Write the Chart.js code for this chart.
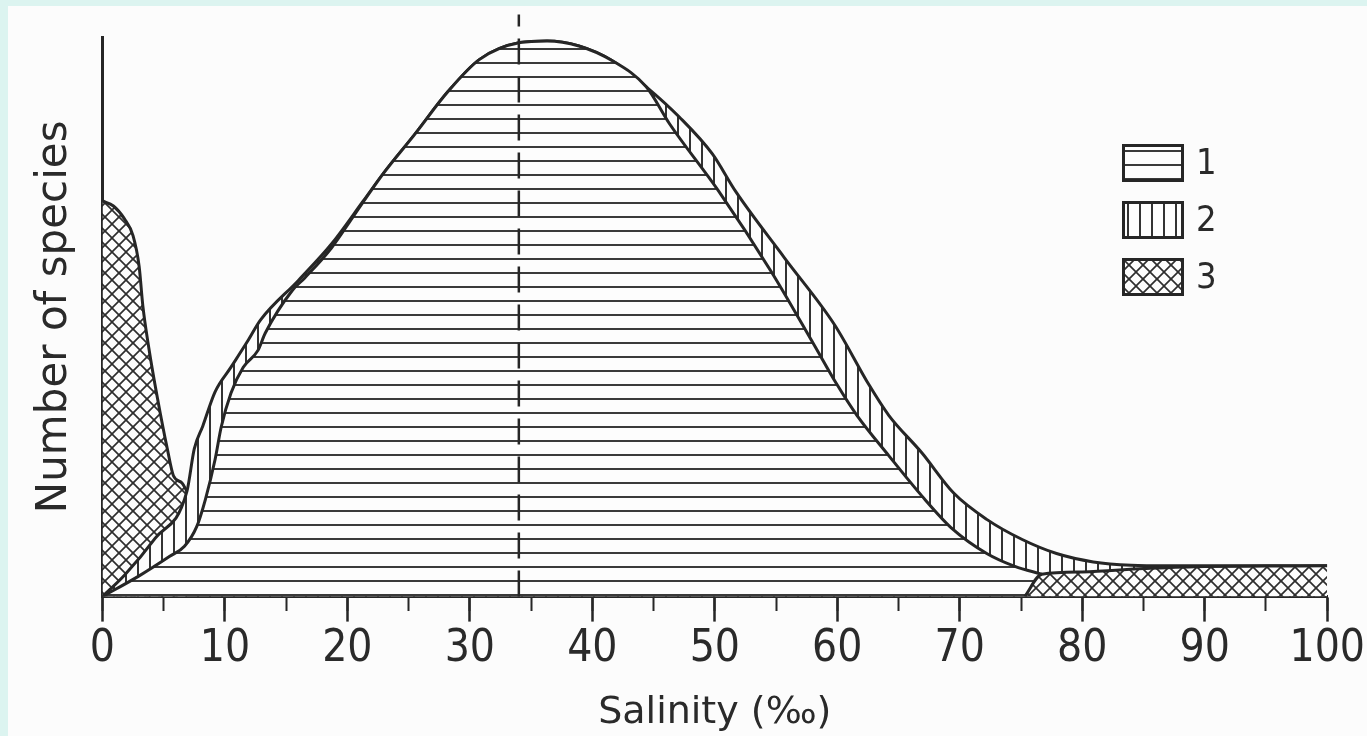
<!DOCTYPE html>
<html>
<head>
<meta charset="utf-8">
<script src="https://cdn.jsdelivr.net/npm/chart.js@4.4.1/dist/chart.umd.min.js"></script>
<style>
  html, body { margin: 0; padding: 0; width: 1367px; height: 736px; overflow: hidden; background: #dcf4f0; }
  #page { position: absolute; left: 8px; top: 6px; width: 1359px; height: 730px; background: #fcfcfc; }
  #chart { position: absolute; left: 0; top: 0; }
  #legend { position: absolute; left: 1122px; top: 144px; width: 120px; height: 170px; }
  .item { position: absolute; left: 0; width: 120px; height: 38px; }
  .item canvas { position: absolute; left: 0; top: 0; }
  .item span { position: absolute; left: 74px; top: -2px; font-family: 'Liberation Sans Narrow', 'DejaVu Sans Condensed', Roboto, sans-serif; font-size: 36px; line-height: 40px; color: #2a2a2a; }
</style>
</head>
<body>
<div id="page"></div>
<canvas id="chart" width="1367" height="736"></canvas>
<div id="legend"></div>
<script>
// ---- Data (salinity in per mille, species in relative units, peak ~100) ----
// 1: marine species (upper boundary of the horizontally hatched area)
const marineSalinity = [0, 3.0, 5.5, 6.7, 7.7, 8.4, 9.2, 9.7, 10.5, 11.5, 12.7, 13.3, 15.5, 16.5, 18.7, 20.6, 22.9, 25.5, 28.2, 30.8, 34.1, 36.3, 38.9, 41.6, 44.4, 46.3, 50.3, 54.6, 58.1, 60.0, 61.6, 64.2, 66.9, 69.4, 72.2, 74.5, 76.7];
const marineSpecies  = [0, 3.7, 7.2, 9.0, 12.5, 17.3, 24.5, 30.3, 36.4, 41.0, 44.0, 47.1, 54.7, 56.9, 62.3, 68.3, 75.5, 82.6, 90.2, 96.0, 99.0, 99.3, 98.4, 95.8, 91.1, 84.5, 72.5, 58.1, 45.0, 37.8, 32.4, 25.2, 18.0, 12.1, 7.7, 5.4, 4.0];
// 2: brackish species (outer boundary of the vertically hatched area)
const brackishSalinity = [0, 1.8, 4.3, 6.9, 7.5, 8.2, 9.2, 10.5, 11.9, 12.9, 16.0, 18.7, 21.3, 22.9, 25.5, 28.2, 30.8, 34.1, 36.3, 38.9, 41.6, 44.4, 47.1, 49.8, 51.7, 55.7, 59.8, 62.6, 64.2, 66.9, 69.5, 72.2, 75.1, 77.9, 80.9, 84.0, 87.0, 100];
const brackishSpecies  = [0, 3.8, 10.4, 18.8, 26.4, 30.5, 36.6, 41.0, 45.8, 49.4, 56.5, 63.0, 70.7, 75.5, 82.6, 90.2, 96.0, 99.0, 99.3, 98.4, 95.8, 91.1, 85.7, 79.1, 72.4, 60.5, 48.5, 37.8, 32.4, 25.7, 18.5, 13.8, 10.2, 7.7, 6.2, 5.6, 5.5, 5.5];
// 3: freshwater species at low salinity (top of the cross-hatched area on the left)
const freshLowSalinity = [0, 0.9, 1.8, 2.5, 3.0, 3.3, 3.8, 4.5, 5.3, 5.8, 6.5, 6.9];
const freshLowSpecies  = [70.7, 69.8, 67.5, 64.5, 59.0, 52.0, 44.3, 35.4, 26.4, 21.6, 20.3, 18.8];
// 3: cross-hatched band at high salinity
const freshHighSalinity = [75.3, 76.7, 80, 85, 90, 95, 100];
const freshHighSpecies  = [0, 4.0, 4.4, 5.0, 5.4, 5.45, 5.5];
// dashed line (salinity of maximum)
const optimumSalinity = 34;
const optimumLineTop = 104;
// axis / legend text
const xTickLabels = ['0', '10', '20', '30', '40', '50', '60', '70', '80', '90', '100'];
const legendLabels = ['1', '2', '3'];
const xTitle = 'Salinity (‰)';
const yTitle = 'Number of species';

const toPoints = (xs, ys) => xs.map((x, i) => ({ x: x, y: ys[i] }));

// ---- hatch patterns ----
const INK = '#262626';
function makePattern(kind) {
  const c = document.createElement('canvas');
  const g = c.getContext('2d');
  if (kind === 'h') {
    c.width = 24; c.height = 14;
    g.fillStyle = '#fdfdfd'; g.fillRect(0, 0, 24, 14);
    g.fillStyle = '#3a3a3a'; g.fillRect(0, 6, 24, 2);
  } else if (kind === 'v') {
    c.width = 12; c.height = 24;
    g.fillStyle = '#fdfdfd'; g.fillRect(0, 0, 12, 24);
    g.fillStyle = '#333'; g.fillRect(5, 0, 2, 24);
  } else {
    c.width = 14; c.height = 14;
    g.fillStyle = '#fdfdfd'; g.fillRect(0, 0, 14, 14);
    g.strokeStyle = '#2e2e2e'; g.lineWidth = 1.7;
    for (const dx of [-14, 0, 14]) {
      g.beginPath(); g.moveTo(dx, 0); g.lineTo(dx + 14, 14); g.stroke();
      g.beginPath(); g.moveTo(dx + 14, 0); g.lineTo(dx, 14); g.stroke();
    }
  }
  return g.createPattern(c, 'repeat');
}
const patH = makePattern('h'), patV = makePattern('v'), patX = makePattern('x');

const area = (label, pts, pattern, order) => ({
  label, data: pts, order,
  borderColor: INK, borderWidth: 3, backgroundColor: pattern,
  fill: 'origin', pointRadius: 0, cubicInterpolationMode: 'monotone'
});

const tickFont = { family: "'Liberation Sans Narrow', 'DejaVu Sans Condensed', Roboto, sans-serif", size: 44 };

new Chart(document.getElementById('chart'), {
  type: 'line',
  data: {
    datasets: [
      Object.assign(area('dashed', toPoints([optimumSalinity, optimumSalinity], [0, optimumLineTop]), 'transparent', 0),
        { fill: false, borderDash: [26, 12], borderWidth: 2.5, clip: false, cubicInterpolationMode: 'default' }),
      area('3 (high salinity)', toPoints(freshHighSalinity, freshHighSpecies), patX, 1),
      area('1', toPoints(marineSalinity, marineSpecies), patH, 2),
      area('2', toPoints(brackishSalinity, brackishSpecies), patV, 3),
      area('3', toPoints(freshLowSalinity, freshLowSpecies), patX, 4)
    ]
  },
  options: {
    responsive: false,
    animation: false,
    devicePixelRatio: 1,
    layout: { padding: { left: 30, right: 32, top: 37, bottom: 0 } },
    plugins: { legend: { display: false }, tooltip: { enabled: false } },
    scales: {
      x: {
        type: 'linear', min: 0, max: 100,
        ticks: {
          stepSize: 10, color: '#2a2a2a', font: tickFont, padding: 2, maxRotation: 0,
          callback: (v) => xTickLabels[Math.round(v / 10)] ?? ''
        },
        grid: { display: true, drawOnChartArea: false, drawTicks: true, tickLength: 25, tickWidth: 2.5, tickColor: INK },
        border: { display: true, width: 3, color: INK },
        title: { display: true, text: xTitle, color: '#2a2a2a', font: { family: 'DejaVu Sans', size: 38 }, padding: { top: 12, bottom: 0 } }
      },
      x2: {
        type: 'linear', axis: 'x', min: 0, max: 100, position: { y: 0 },
        ticks: { stepSize: 5, display: false },
        grid: { display: true, drawOnChartArea: false, drawTicks: true, tickLength: 14, tickWidth: 2, tickColor: INK },
        border: { display: false }
      },
      y: {
        type: 'linear', min: 0, max: 100,
        ticks: { display: false },
        grid: { display: false, drawTicks: false },
        border: { display: true, width: 3, color: INK },
        title: { display: true, text: yTitle, color: '#2a2a2a', font: { family: 'DejaVu Sans', size: 42 }, padding: { top: 0, bottom: 22 } }
      }
    }
  }
});

// ---- legend (HTML text, swatches painted with the same patterns) ----
const legendPatterns = [patH, patV, patX];
const legend = document.getElementById('legend');
legendLabels.forEach((lab, i) => {
  const item = document.createElement('div');
  item.className = 'item';
  item.style.top = (i * 57) + 'px';
  const cv = document.createElement('canvas');
  cv.width = 62; cv.height = 38;
  const g = cv.getContext('2d');
  g.fillStyle = legendPatterns[i]; g.fillRect(0, 0, 62, 38);
  g.strokeStyle = INK; g.lineWidth = 3; g.strokeRect(1.5, 1.5, 59, 35);
  const sp = document.createElement('span');
  sp.textContent = lab;
  item.appendChild(cv); item.appendChild(sp);
  legend.appendChild(item);
});
</script>
</body>
</html>
